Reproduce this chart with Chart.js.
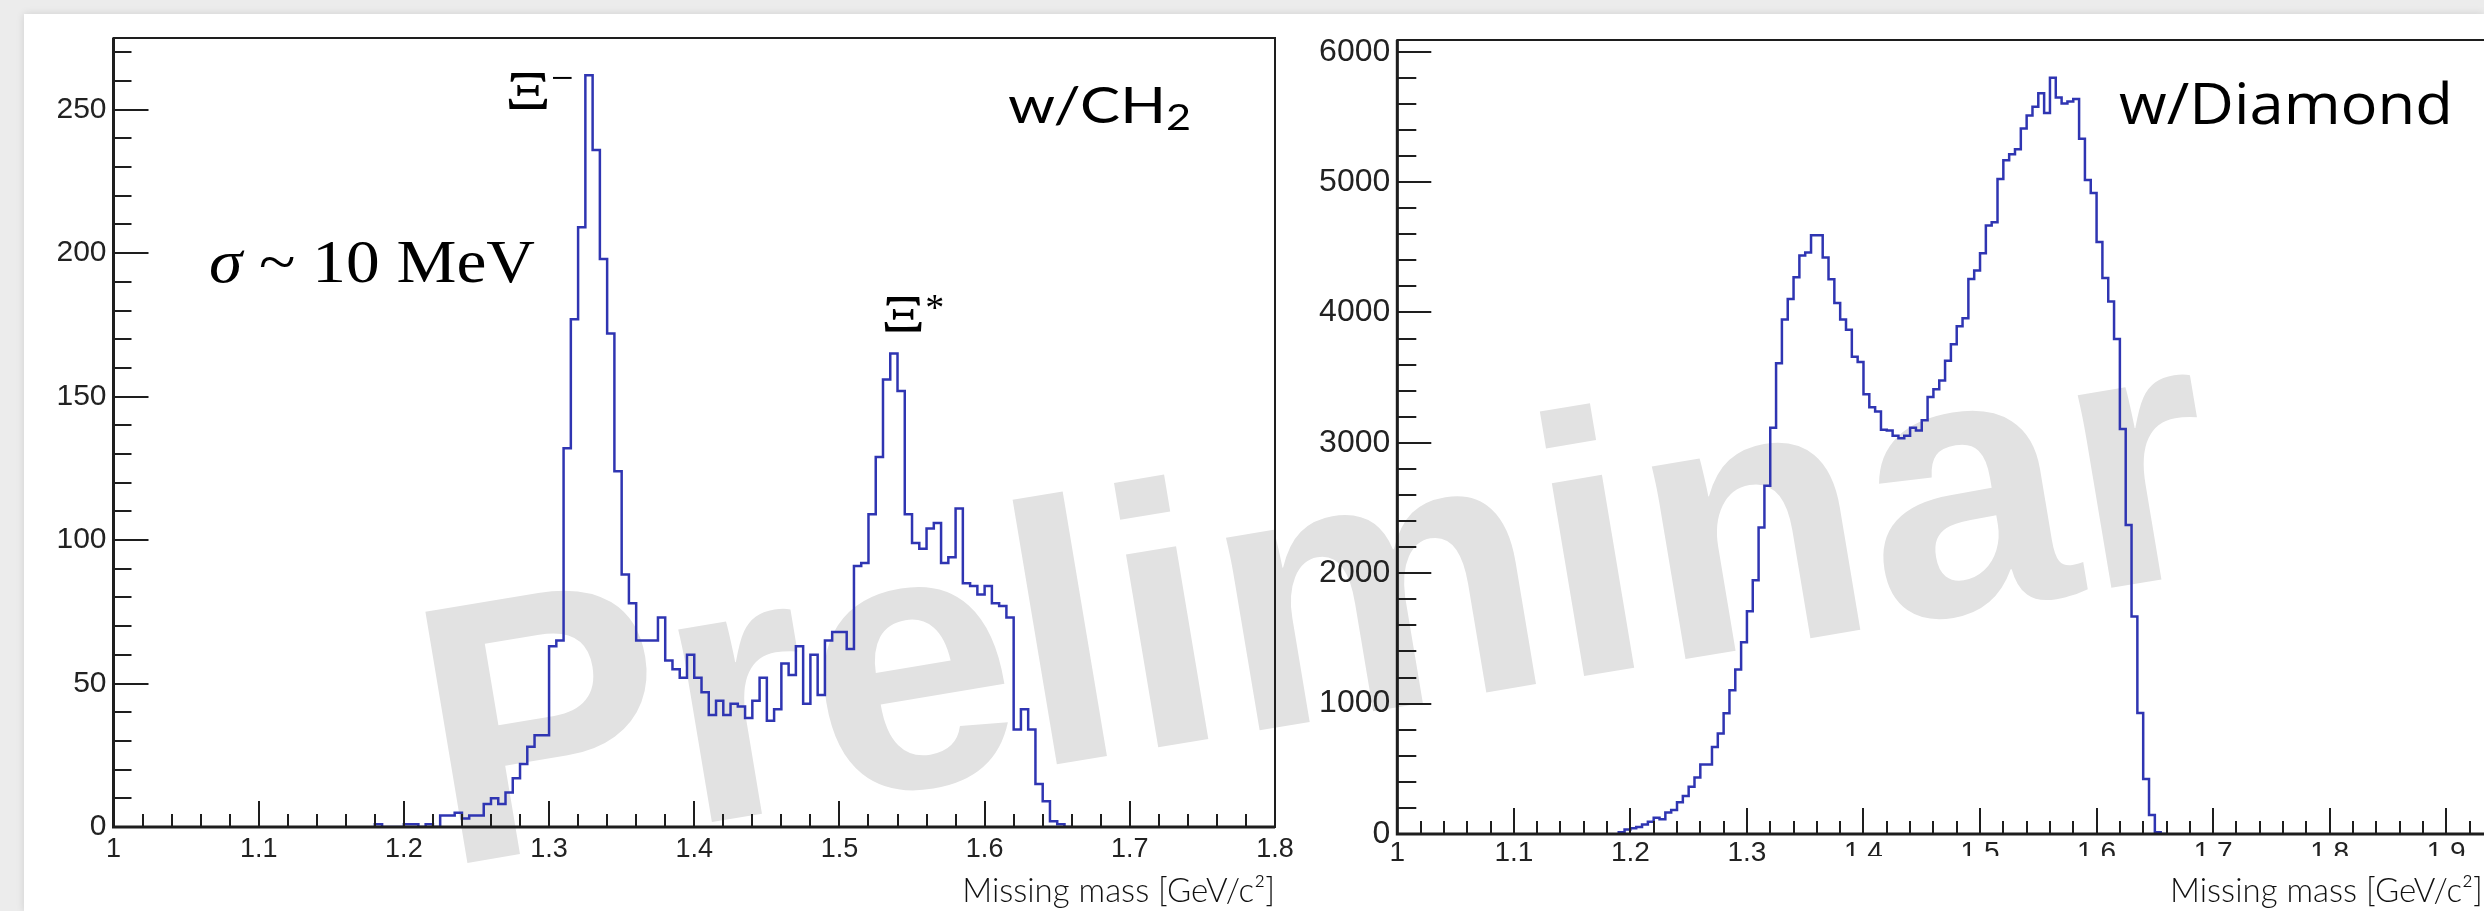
<!DOCTYPE html>
<html>
<head>
<meta charset="utf-8">
<script src="https://cdn.jsdelivr.net/npm/chart.js@4.4.1/dist/chart.umd.min.js"></script>
<style>
  html, body { margin: 0; padding: 0; width: 2484px; height: 911px; overflow: hidden; background: #ececec; }
  #sheet { position: absolute; left: 24px; top: 14px; right: 0; bottom: 0; background: #fff; box-shadow: 0 0 8px rgba(0,0,0,0.12); }
  canvas { position: absolute; top: 0; }
  #stamp { left: 0; }
  #ch2 { left: 0; }
  #diamond { left: 1290px; }
  #mask { position: absolute; left: 1815px; top: 856px; width: 700px; height: 19px; background: #fff; }
</style>
</head>
<body>
<div id="sheet"></div>
<canvas id="stamp" width="2484" height="911"></canvas>
<canvas id="ch2" width="1330" height="911"></canvas>
<canvas id="diamond" width="1240" height="911"></canvas>
<div id="mask"></div>
<script>
// bin width of both missing-mass histograms (GeV/c^2)
const BIN = 0.005;

// CH2 target: counts per bin, first bin starts at ch2Start
const ch2Start = 1.18;
const ch2Counts = [
  0, 1, 0, 0, 0, 1, 1, 0, 1, 0,
  4, 4, 5, 3, 4, 4, 8, 10, 8, 12,
  17, 22, 28, 32, 32, 63, 65, 132, 177, 209,
  262, 236, 198, 172, 124, 88, 78, 65, 65, 65,
  73, 58, 55, 52, 60, 52, 47, 39, 44, 39,
  43, 42, 38, 44, 52, 37, 41, 57, 53, 63,
  43, 60, 46, 65, 68, 68, 62, 91, 92, 109,
  129, 156, 165, 152, 109, 99, 97, 104, 106, 92,
  94, 111, 85, 84, 81, 84, 78, 77, 73, 34,
  41, 34, 15, 9, 2, 1
];
const ch2XRange = [1, 1.8];
const ch2YMax = 275;
const ch2XTicks = [1, 1.1, 1.2, 1.3, 1.4, 1.5, 1.6, 1.7, 1.8];
const ch2YTicks = [0, 50, 100, 150, 200, 250];

// diamond target
const diamondStart = 1.19;
const diamondCounts = [
  14, 14, 34, 45, 53, 73, 93, 125, 113, 164,
  184, 244, 291, 362, 434, 533, 533, 667, 770, 927,
  1103, 1261, 1471, 1709, 1946, 2350, 2671, 3115, 3610, 3946,
  4104, 4271, 4437, 4461, 4592, 4592, 4421, 4255, 4073, 3946,
  3867, 3661, 3621, 3372, 3273, 3241, 3100, 3095, 3055, 3035,
  3055, 3115, 3095, 3174, 3352, 3412, 3479, 3630, 3757, 3895,
  3955, 4256, 4323, 4454, 4668, 4692, 5024, 5167, 5214, 5253,
  5411, 5510, 5578, 5681, 5530, 5800, 5649, 5602, 5618, 5637,
  5333, 5016, 4917, 4541, 4264, 4085, 3796, 3107, 2370, 1669,
  928, 422, 145, 14
];
const diamondXRange = [1, 1.935];
const diamondYMax = 6090;
const diamondXTicks = [1, 1.1, 1.2, 1.3, 1.4, 1.5, 1.6, 1.7, 1.8, 1.9];
const diamondYTicks = [0, 1000, 2000, 3000, 4000, 5000, 6000];

const xTitle = 'Missing mass [GeV/c²]';
const stampText = 'Preliminar';

const lineBlue = '#2f35b2';
const axisColor = '#1e1e1e';

// low-edge points for a stepped outline, closed to zero on both sides
function histPoints(start, counts) {
  const pts = [{x: start, y: 0}];
  counts.forEach((c, i) => pts.push({x: start + i * BIN, y: c}));
  pts.push({x: start + counts.length * BIN, y: 0});
  return pts;
}

// grey watermark behind both pads
(function drawStamp() {
  const ctx = document.getElementById('stamp').getContext('2d');
  ctx.save();
  ctx.translate(443, 867);
  ctx.rotate(-9.5 * Math.PI / 180);
  ctx.font = 'bold 370px "Liberation Sans"';
  ctx.fillStyle = '#e2e2e2';
  ctx.fillText(stampText, 0, 0);
  ctx.restore();
})();

// ROOT style frame: box round the pad, ticks pointing inwards, drawn over the data
const rootFrame = {
  id: 'rootFrame',
  afterDatasetsDraw(chart, args, o) {
    const {ctx, chartArea: a, scales: {x, y}} = chart;
    ctx.save();
    ctx.strokeStyle = axisColor;
    ctx.lineWidth = 2;
    ctx.beginPath();
    const xs = o.xStep / 5;
    for (let i = 0; ; i++) {
      const v = x.min + i * xs;
      if (v > x.max + 1e-9) break;
      const px = Math.round(x.getPixelForValue(v));
      const len = i % 5 === 0 ? o.xMajor : o.xMinor;
      ctx.moveTo(px, a.bottom);
      ctx.lineTo(px, a.bottom - len);
    }
    const ys = o.yStep / 5;
    for (let i = 0; ; i++) {
      const v = i * ys;
      if (v > y.max + 1e-9) break;
      const py = Math.round(y.getPixelForValue(v));
      const len = i % 5 === 0 ? o.yMajor : o.yMinor;
      ctx.moveTo(a.left, py);
      ctx.lineTo(a.left + len, py);
    }
    ctx.stroke();
    ctx.strokeRect(a.left, a.top, a.right - a.left, a.bottom - a.top);
    ctx.lineWidth = 3;
    ctx.beginPath();
    ctx.moveTo(a.left, a.top);
    ctx.lineTo(a.left, a.bottom);
    ctx.lineTo(a.right, a.bottom);
    ctx.stroke();
    ctx.restore();
  }
};

// free text on the pad; each note is a row of runs, optionally squeezed to a width
const notesPlugin = {
  id: 'notes',
  afterDraw(chart, args, o) {
    const ctx = chart.ctx;
    (o.items || []).forEach(n => {
      ctx.save();
      ctx.fillStyle = '#000';
      ctx.textBaseline = 'alphabetic';
      let w = 0;
      n.runs.forEach(r => { ctx.font = r.font; w += ctx.measureText(r.text).width * (r.sx || 1); });
      const sx = n.width ? n.width / w : 1;
      ctx.translate(n.x, n.y);
      ctx.scale(sx, 1);
      let cx = 0;
      n.runs.forEach(r => {
        const rs = r.sx || 1;
        ctx.font = r.font;
        ctx.save();
        ctx.translate(cx, 0);
        ctx.scale(rs, 1);
        ctx.fillText(r.text, 0, r.dy || 0);
        ctx.restore();
        cx += ctx.measureText(r.text).width * rs;
      });
      ctx.restore();
    });
  }
};

const fixTicks = values => scale => {
  scale.ticks = values.map(v => ({ value: v }));
};

function makePad(id, cfg) {
  return new Chart(document.getElementById(id), {
    type: 'line',
    data: {
      datasets: [{
        data: histPoints(cfg.start, cfg.counts),
        borderColor: lineBlue,
        borderWidth: 2.5,
        pointRadius: 0,
        stepped: 'after',
        fill: false
      }]
    },
    options: {
      responsive: false,
      animation: false,
      devicePixelRatio: 1,
      layout: { padding: cfg.padding },
      plugins: {
        legend: { display: false },
        tooltip: { enabled: false },
        rootFrame: cfg.frame,
        notes: { items: cfg.notes }
      },
      scales: {
        x: {
          type: 'linear',
          min: cfg.xRange[0],
          max: cfg.xRange[1],
          grid: { display: false, drawTicks: false },
          border: { display: false },
          afterBuildTicks: fixTicks(cfg.xTicks),
          ticks: {
            autoSkip: false,
            maxRotation: 0,
            padding: cfg.xPad,
            color: '#222',
            font: { family: 'Liberation Sans', size: cfg.xFont },
            callback: v => String(+v.toFixed(2))
          },
          title: {
            display: true,
            text: xTitle + (cfg.titleTail || ''),
            align: 'end',
            color: '#111',
            font: { family: 'Lato', size: 33, weight: 300 },
            padding: { top: 0, bottom: 0 }
          },
          afterFit: s => { s.height = cfg.xHeight; }
        },
        y: {
          min: 0,
          max: cfg.yMax,
          grid: { display: false, drawTicks: false },
          border: { display: false },
          afterBuildTicks: fixTicks(cfg.yTicks),
          ticks: {
            autoSkip: false,
            padding: 7,
            color: '#222',
            font: { family: 'Liberation Sans', size: cfg.yFont },
            callback: v => String(v)
          },
          afterFit: s => { s.width = cfg.yWidth; }
        }
      }
    },
    plugins: [rootFrame, notesPlugin]
  });
}

makePad('ch2', {
  start: ch2Start,
  counts: ch2Counts,
  xRange: ch2XRange,
  yMax: ch2YMax,
  xTicks: ch2XTicks,
  yTicks: ch2YTicks,
  padding: { left: 0, top: 38, right: 55, bottom: 0 },
  yWidth: 113.5,
  xHeight: 84,
  xPad: 6,
  xFont: 27,
  yFont: 30,
  frame: { xStep: 0.1, yStep: 50, xMajor: 26, xMinor: 13, yMajor: 35, yMinor: 18 },
  notes: [
    { x: 505, y: 109, runs: [
      { text: 'Ξ', font: '55px "Liberation Serif"', sx: 1.3 },
      { text: '−', font: '40px "Liberation Serif"', dy: -18 }
    ] },
    { x: 881, y: 332, runs: [
      { text: 'Ξ', font: '53px "Liberation Serif"', sx: 1.3 },
      { text: '*', font: '38px "Liberation Serif"', dy: -12 }
    ] },
    { x: 209, y: 282, width: 326, runs: [
      { text: 'σ', font: 'italic 62px "Liberation Serif"' },
      { text: ' ~ 10 MeV', font: '62px "Liberation Serif"' }
    ] },
    { x: 1008, y: 123, width: 183, runs: [
      { text: 'w/CH', font: '50px Lato' },
      { text: '2', font: '36px Lato', dy: 7 }
    ] }
  ]
});

makePad('diamond', {
  start: diamondStart,
  counts: diamondCounts,
  xRange: diamondXRange,
  yMax: diamondYMax,
  xTicks: diamondXTicks,
  yTicks: diamondYTicks,
  titleTail: '\u2009',
  padding: { left: 0, top: 40, right: 43, bottom: 0 },
  yWidth: 107.3,
  xHeight: 77,
  xPad: 2,
  xFont: 28,
  yFont: 32,
  frame: { xStep: 0.1, yStep: 1000, xMajor: 26, xMinor: 13, yMajor: 34, yMinor: 19 },
  notes: [
    { x: 829, y: 124, width: 334, runs: [
      { text: 'w/Diamond', font: '56px "Open Sans"' }
    ] }
  ]
});
</script>
</body>
</html>
